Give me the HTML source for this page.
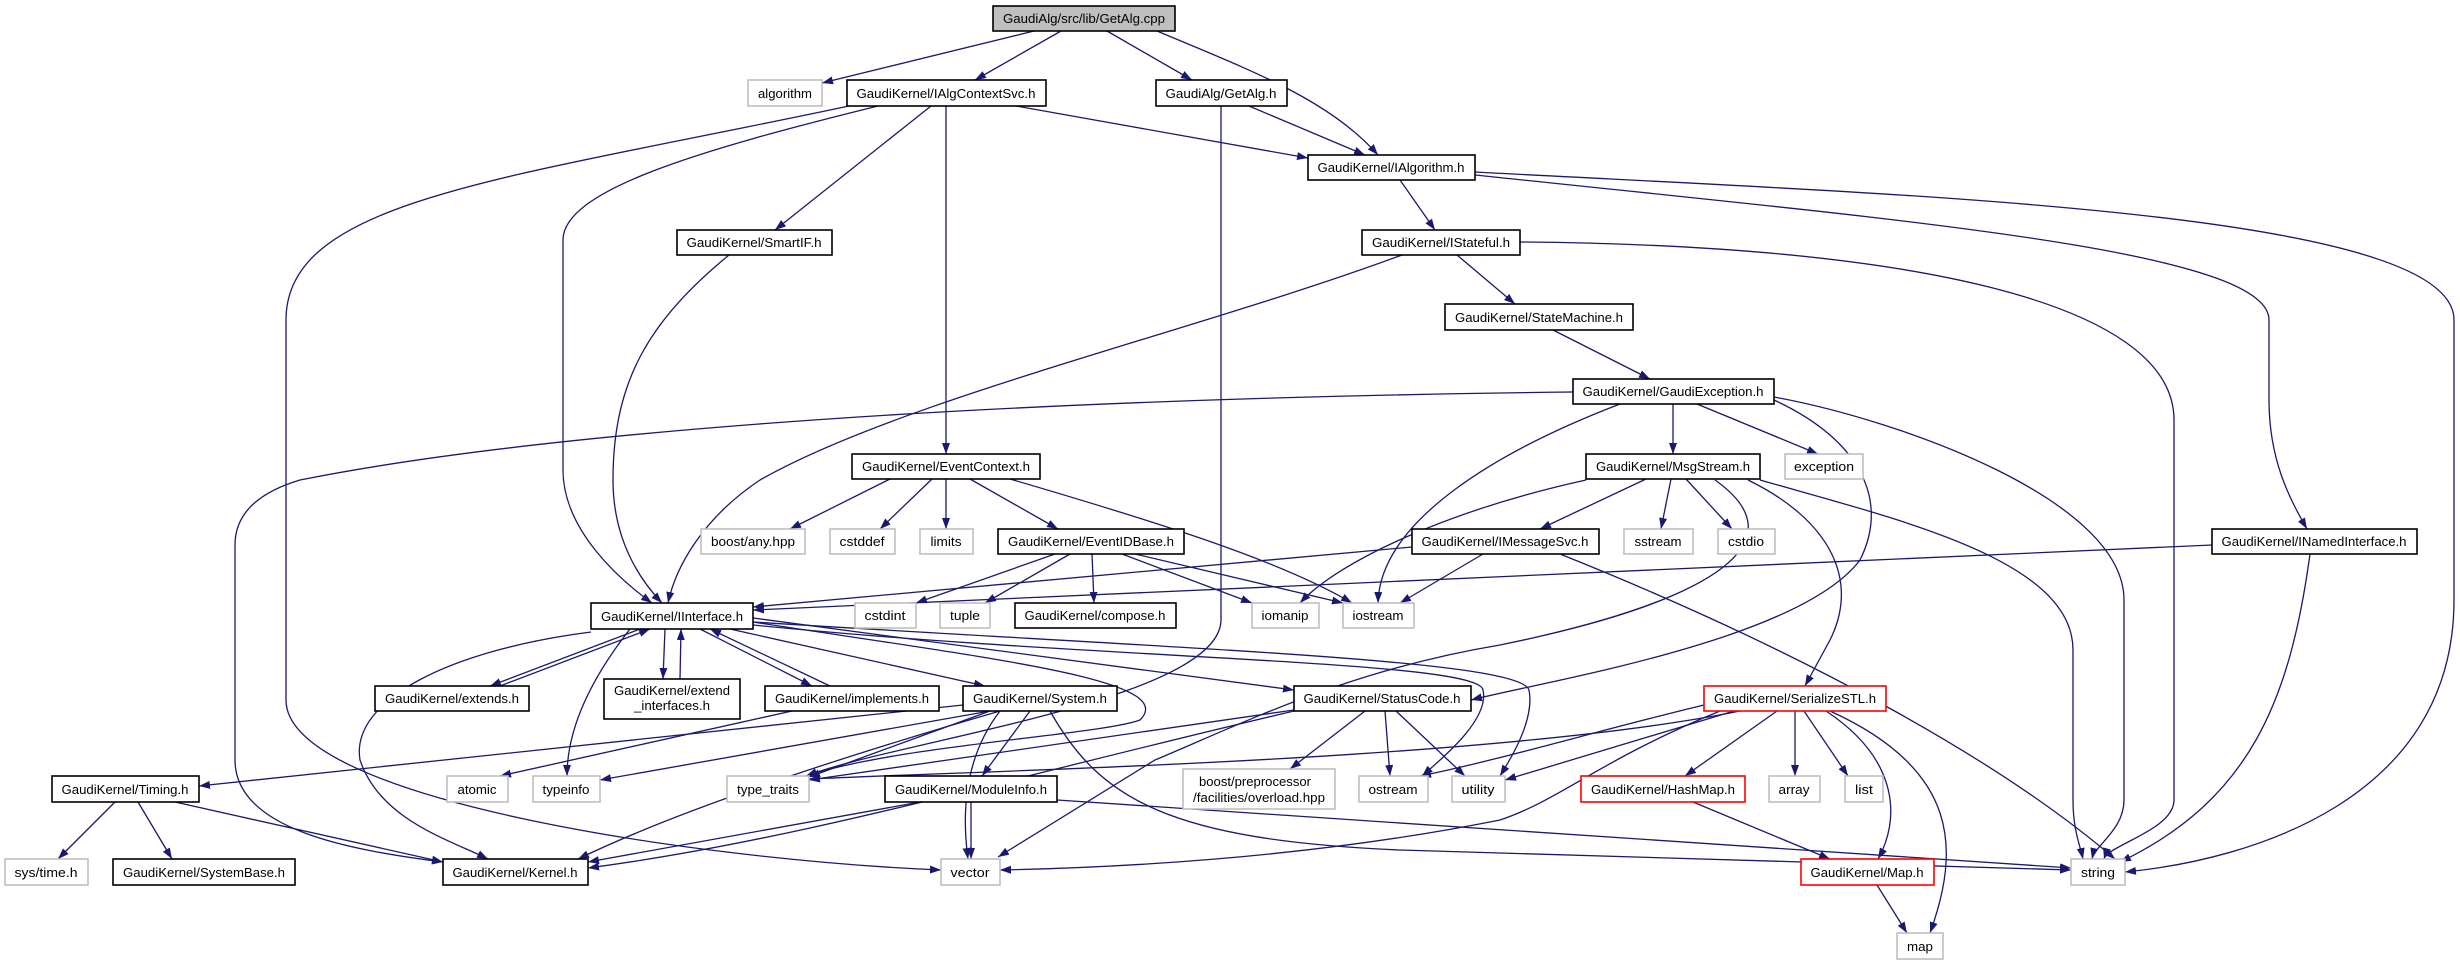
<!DOCTYPE html>
<html><head><meta charset="utf-8"><style>
html,body{margin:0;padding:0;background:#fff}
svg{display:block}
text{font-family:"Liberation Sans",sans-serif;font-size:13px;fill:#000}
.n{fill:#fff;stroke:#000;stroke-width:1.6}
.g{fill:#fff;stroke:#bfbfbf;stroke-width:1.6}
.r{fill:#fff;stroke:#ff0000;stroke-width:1.6}
.e{fill:none;stroke:#191970;stroke-width:1.3}
</style></head><body>
<svg width="2460" height="965" viewBox="0 0 2460 965" xmlns="http://www.w3.org/2000/svg">
<defs><marker id="a" markerUnits="userSpaceOnUse" markerWidth="12" markerHeight="9" refX="11" refY="4" orient="auto"><path d="M0,0 L11,4 L0,8 z" fill="#191970"/></marker></defs>
<g class="e" marker-end="url(#a)">
<path d="M1034,31 L822,83"/>
<path d="M1061,31 L975,80"/>
<path d="M1107,31 L1192,80"/>
<path d="M1157,31 C1250,70 1330,100 1378,155"/>
<path d="M878,106 C700,150 563,190 563,240 L563,470 C563,530 620,580 652,603"/>
<path d="M849,106 C500,180 286,200 286,320 L286,700 C286,800 700,860 941,870"/>
<path d="M729,255 C650,320 613,380 613,480 C613,540 640,580 662,603"/>
<path d="M931,106 L775,230"/>
<path d="M946,106 L946,454"/>
<path d="M1016,106 L1308,158"/>
<path d="M1249,106 L1365,155"/>
<path d="M1221,106 L1221,620 C1220,700 900,740 806,776"/>
<path d="M1400,180 L1435,230"/>
<path d="M1475,172 C1900,195 2454,210 2454,320 L2454,600 C2454,800 2250,860 2125,872"/>
<path d="M1475,175 C1900,220 2269,250 2269,320 L2269,400 C2269,460 2290,500 2307,529"/>
<path d="M1457,255 L1515,304"/>
<path d="M1402,255 C1200,330 900,400 760,480 C700,520 675,570 668,603"/>
<path d="M1520,242 C1900,245 2174,300 2174,420 L2174,800 C2174,830 2108,845 2104,859"/>
<path d="M1553,330 L1650,379"/>
<path d="M1573,392 C900,400 500,440 300,480 C250,495 235,520 235,545 L235,760 C235,830 350,850 443,862"/>
<path d="M1620,404 C1500,450 1380,520 1378,603"/>
<path d="M1673,404 L1673,454"/>
<path d="M1697,404 L1818,454"/>
<path d="M1774,397 C1900,420 2124,500 2124,600 L2124,800 C2124,830 2095,845 2092,859"/>
<path d="M1774,400 C1860,440 1890,500 1860,560 C1800,640 1550,680 1471,700"/>
<path d="M890,479 L790,529"/>
<path d="M932,479 L880,529"/>
<path d="M946,479 L946,529"/>
<path d="M970,479 L1058,529"/>
<path d="M1010,479 C1150,520 1280,560 1352,603"/>
<path d="M1055,554 L916,603"/>
<path d="M1070,554 L985,603"/>
<path d="M1092,554 L1094,603"/>
<path d="M1122,554 L1252,603"/>
<path d="M1135,554 L1343,603"/>
<path d="M1646,479 L1540,529"/>
<path d="M1671,479 L1661,529"/>
<path d="M1686,479 L1732,529"/>
<path d="M1586,480 C1450,510 1340,560 1300,603"/>
<path d="M1760,480 C1900,520 2073,560 2073,650 L2073,800 C2073,830 2080,845 2083,859"/>
<path d="M1748,480 C1830,520 1860,580 1830,640 L1805,686"/>
<path d="M1715,480 C1800,540 1720,600 1500,645 C1350,670 1250,720 1155,760 L998,857"/>
<path d="M1483,554 L1400,603"/>
<path d="M1412,547 L753,607"/>
<path d="M1560,554 C1800,650 2000,760 2115,859"/>
<path d="M2212,545 L753,610"/>
<path d="M2310,554 C2290,700 2250,800 2120,862"/>
<path d="M640,629 L490,686"/>
<path d="M500,686 L650,629"/>
<path d="M665,629 L663,679"/>
<path d="M680,679 L681,629"/>
<path d="M700,629 L812,686"/>
<path d="M830,686 L710,629"/>
<path d="M591,632 C450,650 350,700 360,760 C380,820 450,840 488,859"/>
<path d="M630,629 C590,680 567,730 567,776"/>
<path d="M730,629 L985,686"/>
<path d="M753,618 L1294,690"/>
<path d="M753,622 C1000,660 1180,680 1140,720 C1100,735 900,745 806,776"/>
<path d="M753,625 C1100,660 1480,660 1483,690 C1490,720 1440,760 1422,776"/>
<path d="M753,622 C1200,650 1520,660 1529,690 C1535,720 1510,760 1500,776"/>
<path d="M792,711 L500,776"/>
<path d="M963,705 L199,786"/>
<path d="M990,711 L600,780"/>
<path d="M1000,711 C900,740 700,800 578,859"/>
<path d="M990,711 L809,777"/>
<path d="M1000,711 C970,750 960,800 968,859"/>
<path d="M1030,711 L982,776"/>
<path d="M1050,711 C1100,800 1170,840 1400,850 L2071,870"/>
<path d="M1365,711 L1290,769"/>
<path d="M1385,711 L1390,776"/>
<path d="M1396,711 L1465,776"/>
<path d="M1294,710 L809,780"/>
<path d="M1294,711 C1000,780 800,840 588,868"/>
<path d="M1704,705 C1600,730 1500,760 1420,776"/>
<path d="M1734,711 L1505,780"/>
<path d="M1740,711 C1500,760 1000,770 809,779"/>
<path d="M1720,711 C1600,760 1560,800 1500,820 C1300,860 1100,868 1000,870"/>
<path d="M1777,711 L1685,776"/>
<path d="M1795,711 L1795,776"/>
<path d="M1804,711 L1848,776"/>
<path d="M1826,711 C1900,760 1900,820 1878,859"/>
<path d="M1830,711 C1960,770 1960,850 1930,933"/>
<path d="M1693,802 L1830,859"/>
<path d="M1877,885 L1907,933"/>
<path d="M115,802 L58,859"/>
<path d="M138,802 L172,859"/>
<path d="M175,802 L443,862"/>
<path d="M920,802 L588,862"/>
<path d="M971,802 L971,859"/>
<path d="M1057,800 L2071,868"/>
</g>
<g text-anchor="middle">
<rect x="993" y="6" width="182" height="25" fill="#bfbfbf" stroke="#000" stroke-width="1.6"/><text x="1084" y="23" textLength="162" lengthAdjust="spacingAndGlyphs">GaudiAlg/src/lib/GetAlg.cpp</text>
<rect class="g" x="748" y="80" width="74" height="26"/><text x="785" y="98" textLength="54" lengthAdjust="spacingAndGlyphs">algorithm</text>
<rect class="n" x="847" y="80" width="199" height="26"/><text x="946" y="98" textLength="179" lengthAdjust="spacingAndGlyphs">GaudiKernel/IAlgContextSvc.h</text>
<rect class="n" x="1156" y="80" width="131" height="26"/><text x="1221" y="98" textLength="111" lengthAdjust="spacingAndGlyphs">GaudiAlg/GetAlg.h</text>
<rect class="n" x="677" y="230" width="155" height="25"/><text x="754" y="247" textLength="135" lengthAdjust="spacingAndGlyphs">GaudiKernel/SmartIF.h</text>
<rect class="n" x="1308" y="155" width="167" height="25"/><text x="1391" y="172" textLength="147" lengthAdjust="spacingAndGlyphs">GaudiKernel/IAlgorithm.h</text>
<rect class="n" x="1362" y="230" width="158" height="25"/><text x="1441" y="247" textLength="138" lengthAdjust="spacingAndGlyphs">GaudiKernel/IStateful.h</text>
<rect class="n" x="1445" y="304" width="188" height="26"/><text x="1539" y="322" textLength="168" lengthAdjust="spacingAndGlyphs">GaudiKernel/StateMachine.h</text>
<rect class="n" x="1573" y="379" width="201" height="25"/><text x="1673" y="396" textLength="181" lengthAdjust="spacingAndGlyphs">GaudiKernel/GaudiException.h</text>
<rect class="n" x="852" y="454" width="188" height="25"/><text x="946" y="471" textLength="168" lengthAdjust="spacingAndGlyphs">GaudiKernel/EventContext.h</text>
<rect class="n" x="1586" y="454" width="174" height="25"/><text x="1673" y="471" textLength="154" lengthAdjust="spacingAndGlyphs">GaudiKernel/MsgStream.h</text>
<rect class="g" x="1785" y="454" width="78" height="25"/><text x="1824" y="471" textLength="60" lengthAdjust="spacingAndGlyphs">exception</text>
<rect class="g" x="701" y="529" width="104" height="25"/><text x="753" y="546" textLength="84" lengthAdjust="spacingAndGlyphs">boost/any.hpp</text>
<rect class="g" x="830" y="529" width="65" height="25"/><text x="862" y="546" textLength="45" lengthAdjust="spacingAndGlyphs">cstddef</text>
<rect class="g" x="920" y="529" width="53" height="25"/><text x="946" y="546" textLength="31" lengthAdjust="spacingAndGlyphs">limits</text>
<rect class="n" x="998" y="529" width="186" height="25"/><text x="1091" y="546" textLength="166" lengthAdjust="spacingAndGlyphs">GaudiKernel/EventIDBase.h</text>
<rect class="n" x="1412" y="529" width="187" height="25"/><text x="1505" y="546" textLength="167" lengthAdjust="spacingAndGlyphs">GaudiKernel/IMessageSvc.h</text>
<rect class="g" x="1624" y="529" width="69" height="25"/><text x="1658" y="546" textLength="47" lengthAdjust="spacingAndGlyphs">sstream</text>
<rect class="g" x="1718" y="529" width="57" height="25"/><text x="1746" y="546" textLength="36" lengthAdjust="spacingAndGlyphs">cstdio</text>
<rect class="n" x="2212" y="529" width="205" height="25"/><text x="2314" y="546" textLength="185" lengthAdjust="spacingAndGlyphs">GaudiKernel/INamedInterface.h</text>
<rect class="n" x="591" y="603" width="162" height="26"/><text x="672" y="621" textLength="142" lengthAdjust="spacingAndGlyphs">GaudiKernel/IInterface.h</text>
<rect class="g" x="855" y="603" width="61" height="25"/><text x="885" y="620" textLength="41" lengthAdjust="spacingAndGlyphs">cstdint</text>
<rect class="g" x="940" y="603" width="50" height="25"/><text x="965" y="620" textLength="30" lengthAdjust="spacingAndGlyphs">tuple</text>
<rect class="n" x="1015" y="603" width="161" height="25"/><text x="1095" y="620" textLength="141" lengthAdjust="spacingAndGlyphs">GaudiKernel/compose.h</text>
<rect class="g" x="1252" y="603" width="67" height="25"/><text x="1285" y="620" textLength="47" lengthAdjust="spacingAndGlyphs">iomanip</text>
<rect class="g" x="1343" y="603" width="71" height="25"/><text x="1378" y="620" textLength="51" lengthAdjust="spacingAndGlyphs">iostream</text>
<rect class="n" x="375" y="686" width="154" height="25"/><text x="452" y="703" textLength="134" lengthAdjust="spacingAndGlyphs">GaudiKernel/extends.h</text>
<rect class="n" x="604" y="679" width="136" height="40"/><text x="672" y="695" textLength="116" lengthAdjust="spacingAndGlyphs">GaudiKernel/extend</text><text x="672" y="710" textLength="76" lengthAdjust="spacingAndGlyphs">_interfaces.h</text>
<rect class="n" x="765" y="686" width="174" height="25"/><text x="852" y="703" textLength="154" lengthAdjust="spacingAndGlyphs">GaudiKernel/implements.h</text>
<rect class="n" x="963" y="686" width="154" height="25"/><text x="1040" y="703" textLength="134" lengthAdjust="spacingAndGlyphs">GaudiKernel/System.h</text>
<rect class="n" x="1294" y="686" width="177" height="25"/><text x="1382" y="703" textLength="157" lengthAdjust="spacingAndGlyphs">GaudiKernel/StatusCode.h</text>
<rect class="r" x="1704" y="686" width="182" height="25"/><text x="1795" y="703" textLength="162" lengthAdjust="spacingAndGlyphs">GaudiKernel/SerializeSTL.h</text>
<rect class="n" x="52" y="776" width="147" height="26"/><text x="125" y="794" textLength="127" lengthAdjust="spacingAndGlyphs">GaudiKernel/Timing.h</text>
<rect class="g" x="447" y="776" width="61" height="26"/><text x="477" y="794" textLength="39" lengthAdjust="spacingAndGlyphs">atomic</text>
<rect class="g" x="533" y="776" width="67" height="26"/><text x="566" y="794" textLength="47" lengthAdjust="spacingAndGlyphs">typeinfo</text>
<rect class="g" x="727" y="776" width="82" height="26"/><text x="768" y="794" textLength="62" lengthAdjust="spacingAndGlyphs">type_traits</text>
<rect class="n" x="885" y="776" width="172" height="26"/><text x="971" y="794" textLength="152" lengthAdjust="spacingAndGlyphs">GaudiKernel/ModuleInfo.h</text>
<rect class="g" x="1183" y="769" width="152" height="40"/><text x="1255" y="786" textLength="112" lengthAdjust="spacingAndGlyphs" text-anchor="middle">boost/preprocessor</text><text x="1259" y="802" textLength="132" lengthAdjust="spacingAndGlyphs">/facilities/overload.hpp</text>
<rect class="g" x="1359" y="776" width="69" height="26"/><text x="1393" y="794" textLength="49" lengthAdjust="spacingAndGlyphs">ostream</text>
<rect class="g" x="1452" y="776" width="53" height="26"/><text x="1478" y="794" textLength="33" lengthAdjust="spacingAndGlyphs">utility</text>
<rect class="r" x="1581" y="776" width="164" height="26"/><text x="1663" y="794" textLength="144" lengthAdjust="spacingAndGlyphs">GaudiKernel/HashMap.h</text>
<rect class="g" x="1769" y="776" width="51" height="26"/><text x="1794" y="794" textLength="31" lengthAdjust="spacingAndGlyphs">array</text>
<rect class="g" x="1845" y="776" width="38" height="26"/><text x="1864" y="794" textLength="18" lengthAdjust="spacingAndGlyphs">list</text>
<rect class="g" x="5" y="859" width="83" height="26"/><text x="46" y="877" textLength="63" lengthAdjust="spacingAndGlyphs">sys/time.h</text>
<rect class="n" x="113" y="859" width="182" height="26"/><text x="204" y="877" textLength="162" lengthAdjust="spacingAndGlyphs">GaudiKernel/SystemBase.h</text>
<rect class="n" x="443" y="859" width="145" height="26"/><text x="515" y="877" textLength="125" lengthAdjust="spacingAndGlyphs">GaudiKernel/Kernel.h</text>
<rect class="g" x="941" y="859" width="59" height="26"/><text x="970" y="877" textLength="39" lengthAdjust="spacingAndGlyphs">vector</text>
<rect class="r" x="1801" y="859" width="133" height="26"/><text x="1867" y="877" textLength="113" lengthAdjust="spacingAndGlyphs">GaudiKernel/Map.h</text>
<rect class="g" x="2071" y="859" width="54" height="26"/><text x="2098" y="877" textLength="34" lengthAdjust="spacingAndGlyphs">string</text>
<rect class="g" x="1897" y="933" width="46" height="26"/><text x="1920" y="951" textLength="26" lengthAdjust="spacingAndGlyphs">map</text>
</g>
</svg>
</body></html>
